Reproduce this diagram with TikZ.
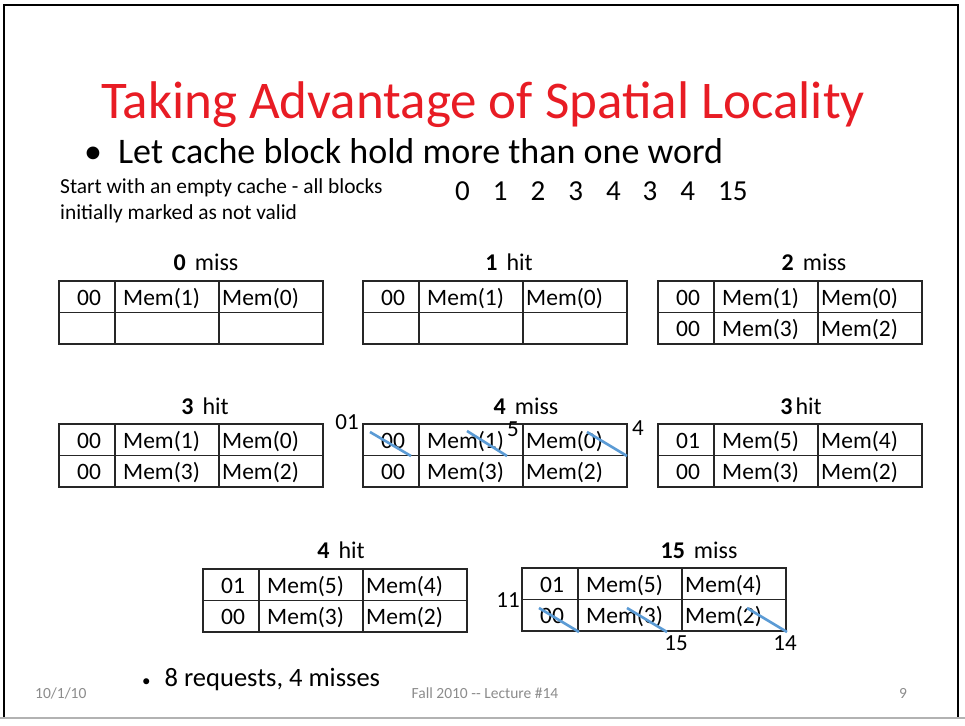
\documentclass[tikz,border=0pt]{standalone}
\usepackage{fontspec}
\setmainfont{Carlito}
\definecolor{titlered}{RGB}{232,28,36}
\definecolor{strike}{RGB}{91,155,213}
\definecolor{footgray}{RGB}{140,140,140}
\newcommand\fsz[1]{\fontsize{#1}{#1}\selectfont}
% one cache: tag | first word | second word, two rows
\newcommand\cachetab[9]{%
  \draw[grid] (#2,#3) rectangle ++(264,63);
  \draw[grid] (#2,#3+31.5) -- ++(264,0);
  \draw[grid] (#2+56,#3) -- ++(0,63);
  \draw[grid] (#2+160,#3) -- ++(0,63);
  \node[cell,anchor=base] (#1-a) at (#2+30,#3+24) {#4};
  \node[cell,anchor=base west] (#1-b) at (#2+64,#3+24) {#5};
  \node[cell,anchor=base west] (#1-c) at (#2+163,#3+24) {#6};
  \node[cell,anchor=base] (#1-d) at (#2+30,#3+55.5) {#7};
  \node[cell,anchor=base west] (#1-e) at (#2+64,#3+55.5) {#8};
  \node[cell,anchor=base west] (#1-f) at (#2+163,#3+55.5) {#9};
}
\begin{document}
\begin{tikzpicture}[x=1pt,y={(0pt,-1pt)},
  grid/.style={line width=1.3pt,black!85},
  cell/.style={inner sep=0pt,font=\fsz{23.5}},
  caption/.style={inner sep=0pt,anchor=base,font=\fsz{24}},
  note/.style={inner sep=0pt,font=\fsz{23}},
  crossout/.style={line width=2.6pt,strike},
  footer/.style={inner sep=0pt,anchor=base,font=\fsz{15.5},text=footgray}]
\useasboundingbox (0,0) rectangle (965,725);
\fill[white] (0,0) rectangle (965,725);
% slide frame
\draw[line width=2.5pt] (4,718) -- (4,5) -- (958,5) -- (958,718);
\draw[line width=2pt,black!30] (0,718) -- (965,718);

% heading and bullet
\node[inner sep=0pt,anchor=base,text=titlered,font=\fsz{53}] (title) at (483,118) {Taking Advantage of Spatial Locality};
\node[inner sep=0pt,anchor=base west,font=\fsz{36}] (bullet) at (84,163) {•\hspace{16pt}Let cache block hold more than one word};
\node[inner sep=0pt,anchor=base west,font=\fsz{21.4}] (start) at (60,193) {Start with an empty cache - all blocks};
\node[inner sep=0pt,anchor=base west,font=\fsz{21.4}] (start2) at (60,219) {initially marked as not valid};
\node[inner sep=0pt,anchor=base west,font=\fsz{29}] (seq) at (455,200)
  {0\hspace{23pt}1\hspace{23pt}2\hspace{23pt}3\hspace{23pt}4\hspace{22pt}3\hspace{23pt}4\hspace{23pt}15};

% first row of caches
\node[caption] (c0) at (206,270) {\textbf{0}\hspace{9pt}miss};
\cachetab{t0}{59}{281}{00}{Mem(1)}{Mem(0)}{}{}{}
\node[caption] (c1) at (509,270) {\textbf{1}\hspace{9pt}hit};
\cachetab{t1}{363}{281}{00}{Mem(1)}{Mem(0)}{}{}{}
\node[caption] (c2) at (814,270) {\textbf{2}\hspace{9pt}miss};
\cachetab{t2}{658}{281}{00}{Mem(1)}{Mem(0)}{00}{Mem(3)}{Mem(2)}

% second row of caches
\node[caption] (c3) at (205,414) {\textbf{3}\hspace{9pt}hit};
\cachetab{t3}{59}{424}{00}{Mem(1)}{Mem(0)}{00}{Mem(3)}{Mem(2)}
\node[caption] (c4) at (526,414) {\textbf{4}\hspace{9pt}miss};
\cachetab{t4}{363}{424}{00}{Mem(1)}{Mem(0)}{00}{Mem(3)}{Mem(2)}
\node[caption] (c5) at (801,414) {\textbf{3}\hspace{3pt}hit};
\cachetab{t5}{658}{424}{01}{Mem(5)}{Mem(4)}{00}{Mem(3)}{Mem(2)}

% replaced entries in the 4-miss cache
\coordinate (s1a) at (370,432); \coordinate (s1b) at (411,456);
\coordinate (s2a) at (467,431); \coordinate (s2b) at (507,456);
\coordinate (s3a) at (587,432); \coordinate (s3b) at (627,456);
\draw[crossout] (s1a) -- (s1b);
\draw[crossout] (s2a) -- (s2b);
\draw[crossout] (s3a) -- (s3b);
\node[note] (n01) at (347,422) {01};
\node[note] (n5) at (513,429) {5};
\node[note] (n4) at (638,428) {4};

% third row of caches
\node[caption] (c6) at (341,558) {\textbf{4}\hspace{9pt}hit};
\cachetab{t6}{203}{569}{01}{Mem(5)}{Mem(4)}{00}{Mem(3)}{Mem(2)}
\node[caption] (c7) at (699,558) {\textbf{15}\hspace{9pt}miss};
\cachetab{t7}{522}{568}{01}{Mem(5)}{Mem(4)}{00}{Mem(3)}{Mem(2)}

% replaced entries in the 15-miss cache
\coordinate (s4a) at (539,608); \coordinate (s4b) at (579,632);
\coordinate (s5a) at (627,608); \coordinate (s5b) at (667,632);
\coordinate (s6a) at (747,608); \coordinate (s6b) at (787,632);
\draw[crossout] (s4a) -- (s4b);
\draw[crossout] (s5a) -- (s5b);
\draw[crossout] (s6a) -- (s6b);
\node[note] (n11) at (508,600) {11};
\node[note] (n15) at (676,643) {15};
\node[note] (n14) at (785,643) {14};

% summary and footer
\node[inner sep=0pt,anchor=base west,font=\fsz{26.5}] (sum) at (142,686) {{\fsz{17}•}\hspace{14pt}8 requests, 4 misses};
\node[footer,anchor=base west] (date) at (35,698) {10/1/10};
\node[footer] (lect) at (485,698) {Fall 2010 {-}{-} Lecture \#14};
\node[footer] (page) at (903,698) {9};
\end{tikzpicture}
\end{document}
